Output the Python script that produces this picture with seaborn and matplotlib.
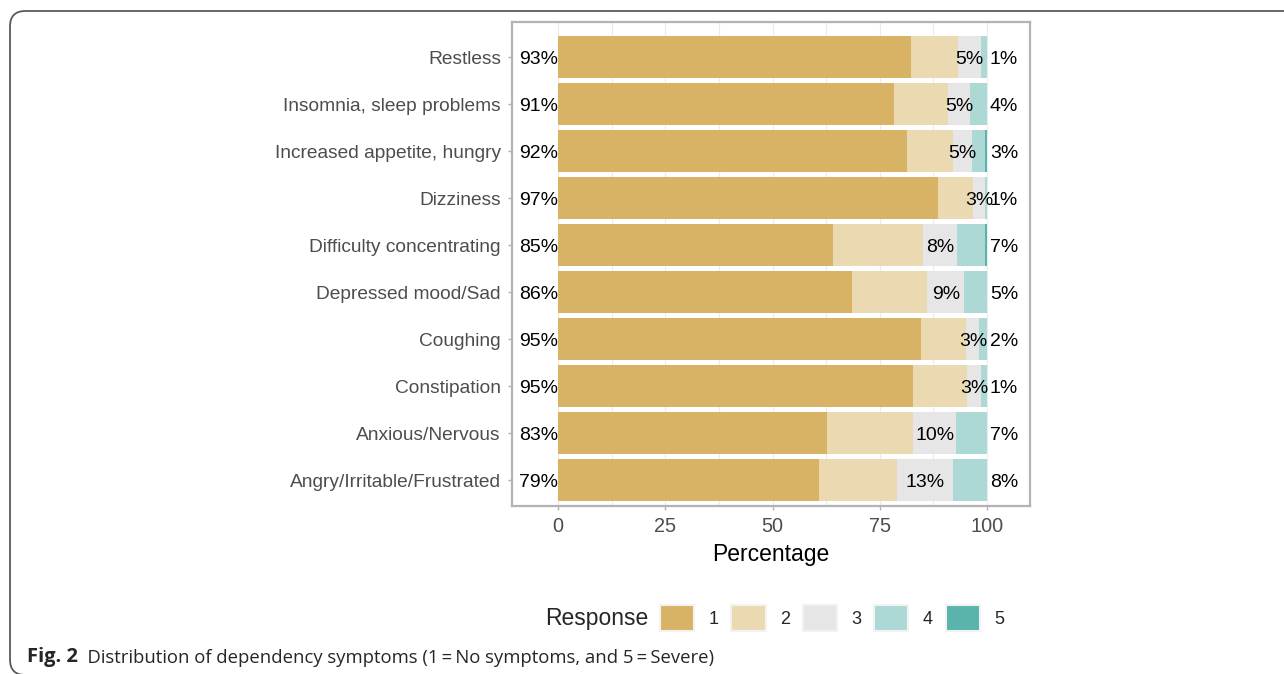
import matplotlib
matplotlib.use("Agg")
import matplotlib.pyplot as plt
from matplotlib.patches import Patch, FancyBboxPatch
from matplotlib.ticker import MultipleLocator
from matplotlib.text import Annotation
import seaborn as sns
import pandas as pd

# ---------------- data ----------------
symptoms = ["Restless", "Insomnia, sleep problems", "Increased appetite, hungry",
            "Dizziness", "Difficulty concentrating", "Depressed mood/Sad",
            "Coughing", "Constipation", "Anxious/Nervous", "Angry/Irritable/Frustrated"]
resp1 = [82.2, 78.2, 81.3, 88.6, 64.1, 68.5, 84.5, 82.8, 62.8, 60.9]
resp2 = [11.0, 12.7, 10.7, 8.2, 20.9, 17.6, 10.7, 12.5, 20.0, 18.2]
resp3 = [5.4, 5.1, 4.6, 2.6, 8.0, 8.6, 3.0, 3.3, 10.0, 13.0]
resp4 = [1.4, 4.0, 2.9, 0.6, 6.6, 5.3, 1.8, 1.4, 7.2, 7.9]
resp5 = [0.0, 0.0, 0.5, 0.0, 0.4, 0.0, 0.0, 0.0, 0.0, 0.0]
response_levels = ["1", "2", "3", "4", "5"]
colors = ["#D8B365", "#EBD9B2", "#E6E6E6", "#ACD9D6", "#5AB4AC"]
xticks = [0, 25, 50, 75, 100]

df = pd.DataFrame({"symptom": symptoms, "r1": resp1, "r2": resp2,
                   "r3": resp3, "r4": resp4, "r5": resp5})
cols = ["r1", "r2", "r3", "r4", "r5"]
cum = df[cols].cumsum(axis=1)

sns.set_theme(style="white")
plt.rcParams["font.family"] = ["Liberation Sans", "DejaVu Sans"]

W, H = 1284, 674
fig = plt.figure(figsize=(W / 100, H / 100), dpi=100)
ax = fig.add_axes([512 / W, 1 - 506 / H, (1030 - 512) / W, (506 - 22) / H])

# stacked bars: draw cumulative totals, largest first
for i in range(4, -1, -1):
    sns.barplot(x=cum[cols[i]].values, y=df["symptom"], orient="h",
                color=colors[i], width=0.9, saturation=1, ax=ax, linewidth=0,
                order=symptoms)

ax.set_xlim(-10.7, 110)
ax.set_ylim(9.55, -0.745)
ax.xaxis.set_major_locator(MultipleLocator(25))
ax.xaxis.set_minor_locator(MultipleLocator(12.5))
ax.set_xticks(xticks)
ax.grid(True, axis="x", which="both", color="#EBEBEB", lw=0.8)
ax.set_axisbelow(True)

for s in ax.spines.values():
    s.set_color("#B3B3B3")
    s.set_linewidth(1.6)
ax.tick_params(axis="both", which="major", length=3, width=1, color="#B3B3B3",
               labelcolor="#4D4D4D", bottom=True, left=True)
ax.tick_params(axis="y", labelsize=13.8, pad=5)
ax.tick_params(axis="x", labelsize=14.3, pad=5)
ax.tick_params(axis="x", which="minor", length=0)
ax.set_ylabel("")
ax.set_xlabel("Percentage", fontsize=16.5, color="black", labelpad=5)

# percentage labels
low = df["r1"] + df["r2"]
neu = df["r3"]
high = df["r4"] + df["r5"]
fs = 14.0
for j in range(len(symptoms)):
    ax.text(0, j, f"{round(low[j])}%", ha="right", va="center_baseline", fontsize=fs, color="black")
    ax.text(low[j] + neu[j] / 2, j, f"{round(neu[j])}%", ha="center", va="center_baseline",
            fontsize=fs, color="black")
    ax.annotate(f"{round(high[j])}%", xy=(100, j), xytext=(2, 0), textcoords="offset points",
                ha="left", va="center_baseline", fontsize=fs, color="black")

# legend
handles = [Patch(facecolor=c, edgecolor="#F2F2F2", linewidth=1.5) for c in colors]
fig.text(648 / W, 1 - 618 / H, "Response", ha="right", va="center", fontsize=16.5)
fig.legend(handles, response_levels, loc="center left",
           bbox_to_anchor=(660 / W, 1 - 618 / H), ncol=5, frameon=False,
           fontsize=13, handlelength=1.9, handleheight=1.9, handletextpad=0.8,
           columnspacing=0.7, borderpad=0, borderaxespad=0)

# frame
frame = FancyBboxPatch((10 / W, -1 / H), 1.2, (H - 10) / H,
                       boxstyle="round,pad=0,rounding_size=0.012",
                       transform=fig.transFigure, facecolor="none",
                       edgecolor="#5A5A5A", linewidth=1.3, clip_on=False,
                       mutation_aspect=W / H)
fig.patches.append(frame)

# caption
cap_font = ["Open Sans", "DejaVu Sans"]
t1 = fig.text(27 / W, 1 - 662 / H, "Fig. 2", fontsize=14.5, fontweight="bold",
              va="baseline", ha="left", family=cap_font)
fig.add_artist(Annotation(
    "  Distribution of dependency symptoms (1\u2009=\u2009No symptoms, and 5\u2009=\u2009Severe)",
    xy=(1, 0), xycoords=t1, va="bottom", ha="left", fontsize=13.3, family=cap_font))

fig.savefig("out.png", dpi=100)
